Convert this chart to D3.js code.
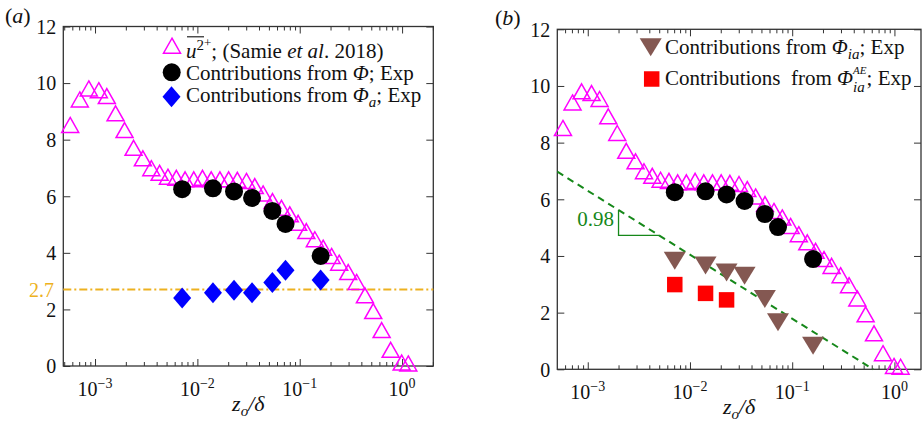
<!DOCTYPE html>
<html><head><meta charset="utf-8">
<script src="https://cdn.jsdelivr.net/npm/d3@7"></script>
<style>
body{margin:0;background:#fff}
svg{display:block}
text{font-family:"Liberation Serif","Times New Roman",Times,serif;fill:#111}
</style>
</head><body>
<svg id="chart" width="922" height="428"></svg>
<script>
// ---------------- data ----------------
const samieX = [5.72e-4, 7.10e-4, 8.70e-4, 1.089e-3, 1.304e-3, 1.587e-3, 1.943e-3, 2.380e-3, 2.935e-3, 3.548e-3,
  4.277e-3, 5.157e-3, 6.23e-3, 7.58e-3, 9.22e-3, 1.122e-2, 1.365e-2, 1.661e-2, 2.020e-2, 2.457e-2,
  3.017e-2, 3.637e-2, 4.385e-2, 5.418e-2, 6.634e-2, 7.998e-2, 9.645e-2, 0.1160, 0.1405, 0.1694,
  0.2048, 0.2429, 0.2976, 0.3596, 0.4335, 0.5227, 0.6315, 0.7734, 0.991, 1.150];
const samieY = [8.52, 9.42, 9.81, 9.75, 9.54, 8.93, 8.34, 7.71, 7.34, 6.99,
  6.83, 6.69, 6.65, 6.60, 6.60, 6.65, 6.60, 6.60, 6.60, 6.58,
  6.54, 6.36, 6.10, 5.83, 5.59, 5.36, 5.06, 4.77, 4.48, 4.18,
  3.89, 3.65, 3.32, 2.97, 2.50, 1.94, 1.27, 0.57, 0.12, 0.09];
const expX = [0.0071, 0.0142, 0.0228, 0.0342, 0.0540, 0.0726, 0.160];
const phiY = [6.25, 6.28, 6.17, 5.94, 5.48, 5.02, 3.89];
const phiAY = [2.40, 2.59, 2.68, 2.59, 2.95, 3.38, 3.04];
const phiIaY = [3.83, 3.66, 3.42, 3.30, 2.48, 1.66, 0.83];
const phiIaAEX = [0.0071, 0.0142, 0.0228];
const phiIaAEY = [2.99, 2.68, 2.45];
const refLevel = 2.7;
const fitSlope = 0.98;      // y = -0.98 ln(x / fitX0)
const fitX0 = 0.62;
const slopeTriX = [2e-3, 5e-3];
const yTicks = [0, 2, 4, 6, 8, 10, 12];
const xTickExps = [-3, -2, -1, 0];

// ---------------- style ----------------
const C = {mag:"#ff00ff", blue:"#0000ff", brown:"#845852", red:"#ff0000",
  green:"#16881a", orange:"#edb120", axis:"#333333"};
const svg = d3.select("#chart");

function rich(parent, x, y, segs, base, anchor, fill) {
  const g = parent.append("g");
  let cx = 0, ps = 0, pe = 0; const pos = [];
  segs.forEach(s => {
    const start = s.stack ? ps : cx;
    const el = g.append("text").attr("x", start).attr("y", -(s.shift || 0))
      .attr("font-size", s.size || base)
      .style("font-style", s.it ? "italic" : "normal")
      .style("white-space", "pre").text(s.t);
    if (fill) el.style("fill", fill);
    const w = el.node().getComputedTextLength();
    const end = start + w;
    cx = s.stack ? Math.max(pe, end) : end;
    ps = start; pe = end; pos.push([start, end]);
  });
  const off = anchor === "middle" ? -cx / 2 : anchor === "end" ? -cx : 0;
  g.attr("transform", `translate(${x + off},${y})`);
  return {g, width: cx, pos, off};
}

const shapes = {
  tri: (w, h) => `M0,${-h/2}L${w/2},${h/2}L${-w/2},${h/2}Z`,
  tridown: (w, h) => `M${-w/2},${-h/2}L${w/2},${-h/2}L0,${h/2}Z`,
  diamond: (w, h) => `M0,${-h/2}L${w/2},0L0,${h/2}L${-w/2},0Z`,
  square: (w) => `M${-w/2},${-w/2}h${w}v${w}h${-w}Z`
};

function markers(g, xs, ys, x, y, kind) {
  const sel = g.append("g").selectAll("path").data(xs.map((d, i) => [d, ys[i]])).join("path")
    .attr("transform", d => `translate(${x(d[0])},${y(d[1])})`);
  style(sel, kind);
}
function style(sel, kind) {
  if (kind === "tri") sel.attr("d", shapes.tri(17, 15)).attr("fill", "none").attr("stroke", C.mag).attr("stroke-width", 1.5);
  if (kind === "circle") sel.attr("d", d3.symbol(d3.symbolCircle, Math.PI * 81)()).attr("fill", "#000");
  if (kind === "diamond") sel.attr("d", shapes.diamond(18, 21)).attr("fill", C.blue);
  if (kind === "tridown") sel.attr("d", shapes.tridown(22, 18)).attr("fill", C.brown);
  if (kind === "square") sel.attr("d", shapes.square(15.5)).attr("fill", C.red);
}
function legendMarker(g, cx, cy, kind) {
  style(g.append("path").attr("transform", `translate(${cx},${cy})`), kind);
}

function panel(p) {
  const x = d3.scaleLog().domain([p.xMin, p.xMax]).range([p.left, p.right]);
  const y = d3.scaleLinear().domain([0, 12]).range([p.bottom, p.top]);
  const g = svg.append("g");
  const majors = xTickExps.map(e => Math.pow(10, e));
  const minors = [];
  for (let e = -4; e <= 0; e++) for (let m = 2; m <= 9; m++) {
    const v = m * Math.pow(10, e);
    if (v > p.xMin && v < p.xMax) minors.push(v);
  }
  const ax = (a) => a.call(s => s.select(".domain").remove())
    .call(s => s.selectAll("line").attr("stroke", C.axis).attr("stroke-width", 1));
  g.append("g").attr("transform", `translate(0,${p.bottom})`)
    .call(d3.axisBottom(x).tickValues(majors).tickSize(-7).tickFormat("")).call(ax);
  g.append("g").attr("transform", `translate(0,${p.bottom})`)
    .call(d3.axisBottom(x).tickValues(minors).tickSize(-4).tickFormat("")).call(ax);
  g.append("g").attr("transform", `translate(0,${p.top})`)
    .call(d3.axisTop(x).tickValues(majors).tickSize(-7).tickFormat("")).call(ax);
  g.append("g").attr("transform", `translate(0,${p.top})`)
    .call(d3.axisTop(x).tickValues(minors).tickSize(-4).tickFormat("")).call(ax);
  const yl = g.append("g").attr("transform", `translate(${p.left},0)`)
    .call(d3.axisLeft(y).tickValues(yTicks).tickSize(-7).tickPadding(7).tickFormat(d3.format("d"))).call(ax);
  yl.selectAll("text").attr("font-size", 20).attr("font-family", null).attr("dy", "0.34em");
  yl.attr("font-family", null).attr("font-size", null);
  g.append("g").attr("transform", `translate(${p.right},0)`)
    .call(d3.axisRight(y).tickValues(yTicks).tickSize(-7).tickFormat("")).call(ax);
  g.append("rect").attr("x", p.left).attr("y", p.top).attr("width", p.right - p.left)
    .attr("height", p.bottom - p.top).attr("fill", "none").attr("stroke", C.axis).attr("stroke-width", 1.3);
  // x tick labels
  xTickExps.forEach(e => {
    rich(g, x(Math.pow(10, e)), p.bottom + 29.5,
      [{t: "10"}, {t: e < 0 ? "\u2212" + (-e) : String(e), size: 14, shift: 8}], 20, "middle");
  });
  // axis title
  rich(g, (p.left + p.right) / 2, p.bottom + 45,
    [{t: "z", it: true}, {t: "o", it: true, size: 15, shift: -5}, {t: "/\u03b4", it: true}], 22, "middle");
  // panel label
  rich(g, p.labelX, p.labelY, [{t: "("}, {t: p.label, it: true}, {t: ")"}], 22, "start");
  return {x, y, g};
}

// ---------------- panel (a) ----------------
const A = panel({left: 63.3, right: 433.3, top: 26.5, bottom: 366,
  xMin: Math.pow(10, -3.31), xMax: Math.pow(10, 0.305), label: "a", labelX: 5, labelY: 22.5});
A.g.append("line").attr("x1", 63.3).attr("x2", 433.3).attr("y1", A.y(refLevel)).attr("y2", A.y(refLevel))
  .attr("stroke", C.orange).attr("stroke-width", 2).attr("stroke-dasharray", "8,3,2,3");
rich(A.g, 54, A.y(refLevel) + 7, [{t: String(refLevel)}], 20, "end", C.orange);
markers(A.g, samieX, samieY, A.x, A.y, "tri");
markers(A.g, expX, phiY, A.x, A.y, "circle");
markers(A.g, expX, phiAY, A.x, A.y, "diamond");
// legend (a)
legendMarker(A.g, 172, 45.7, "tri");
legendMarker(A.g, 171.7, 72.3, "circle");
legendMarker(A.g, 171.5, 96.7, "diamond");
const l1 = rich(A.g, 186, 57.5, [{t: "u", it: true}, {t: "2", size: 15, shift: 8}, {t: "+", size: 13, shift: 11},
  {t: "; (Samie "}, {t: "et al", it: true}, {t: ". 2018)"}], 21, "start");
A.g.append("line").attr("x1", 186 + l1.pos[0][0] + 1).attr("x2", 186 + l1.pos[1][1])
  .attr("y1", 36.8).attr("y2", 36.8).attr("stroke", "#111").attr("stroke-width", 1.1);
rich(A.g, 186, 79.5, [{t: "Contributions from "}, {t: "\u03a6", it: true}, {t: "; Exp"}], 21, "start");
rich(A.g, 186, 101.5, [{t: "Contributions from "}, {t: "\u03a6", it: true}, {t: "a", it: true, size: 15, shift: -5}, {t: "; Exp"}], 21, "start");

// ---------------- panel (b) ----------------
const B = panel({left: 557.3, right: 921, top: 29.3, bottom: 369.3,
  xMin: Math.pow(10, -3.298), xMax: Math.pow(10, 0.26), label: "b", labelX: 495, labelY: 24.5});
const fit = v => -fitSlope * Math.log(v / fitX0);
B.g.append("path").datum([B.x.domain()[0], fitX0])
  .attr("d", d3.line().x(d => B.x(d)).y(d => B.y(fit(d))))
  .attr("fill", "none").attr("stroke", C.green).attr("stroke-width", 2).attr("stroke-dasharray", "7,5");
B.g.append("path").datum([[slopeTriX[0], fit(slopeTriX[0])], [slopeTriX[0], fit(slopeTriX[1])], [slopeTriX[1], fit(slopeTriX[1])]])
  .attr("d", d3.line().x(d => B.x(d[0])).y(d => B.y(d[1])))
  .attr("fill", "none").attr("stroke", C.green).attr("stroke-width", 1.3);
rich(B.g, B.x(slopeTriX[0]) - 4.5, B.y(fit(slopeTriX[1])) - 9.5, [{t: fitSlope.toFixed(2)}], 21, "end", C.green);
markers(B.g, samieX, samieY, B.x, B.y, "tri");
markers(B.g, expX, phiY, B.x, B.y, "circle");
markers(B.g, expX, phiIaY, B.x, B.y, "tridown");
markers(B.g, phiIaAEX, phiIaAEY, B.x, B.y, "square");
legendMarker(B.g, 650.7, 47.3, "tridown");
legendMarker(B.g, 651.7, 79, "square");
rich(B.g, 665, 54.3, [{t: "Contributions from "}, {t: "\u03a6", it: true}, {t: "ia", it: true, size: 15, shift: -5}, {t: "; Exp"}], 21, "start");
rich(B.g, 665, 85, [{t: "Contributions  from "}, {t: "\u03a6", it: true}, {t: "AE", it: true, size: 11, shift: 11.5},
  {t: "ia", it: true, size: 15, shift: -6.5, stack: true}, {t: "; Exp"}], 21, "start");
</script>
</body></html>
